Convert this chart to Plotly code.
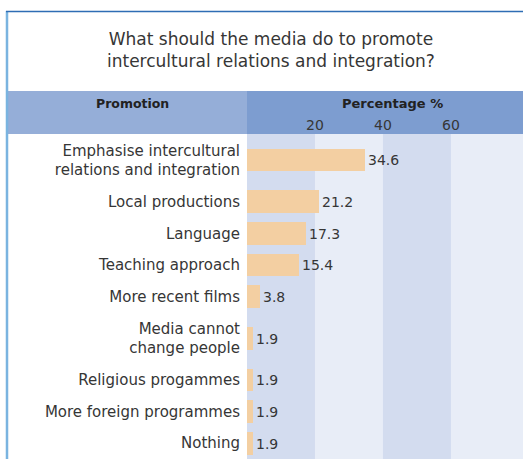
import plotly.graph_objects as go

# Survey answers and their shares (%)
labels = [
    "Emphasise intercultural<br>relations and integration",
    "Local productions",
    "Language",
    "Teaching approach",
    "More recent films",
    "Media cannot<br>change people",
    "Religious progammes",
    "More foreign programmes",
    "Nothing",
]
values = [34.6, 21.2, 17.3, 15.4, 3.8, 1.9, 1.9, 1.9, 1.9]
x_ticks = [20, 40, 60]
title_text = "What should the media do to promote<br>intercultural relations and integration?"
col_left = "Promotion"
col_right = "Percentage %"

W, H = 523, 459
FONT = "DejaVu Sans"
TEXT = "#363636"

# Row heights grow with the number of lines in a label
row_units = [1 + 0.65 * lab.count("<br>") for lab in labels]
centers, acc = [], 0.0
for u in row_units:
    centers.append(acc + u / 2)
    acc += u
total_units = acc

X_MAX = 81.2


def px(x):
    return x / W


def py(y):
    return 1 - y / H


fig = go.Figure(
    go.Bar(
        x=values,
        y=centers,
        orientation="h",
        width=0.72,
        marker=dict(color="#f3cfa2", line=dict(width=0)),
        text=[f"{v:.1f}" for v in values],
        textposition="outside",
        textfont=dict(family=FONT, size=14, color=TEXT),
        cliponaxis=False,
        hoverinfo="skip",
    )
)

shapes = []
# alternating column bands behind the bars
band_edges = [0] + x_ticks + [X_MAX]
for i in range(len(band_edges) - 1):
    if i % 2 == 0:
        shapes.append(dict(
            type="rect", xref="x", yref="paper",
            x0=band_edges[i], x1=band_edges[i + 1],
            y0=0, y1=py(134), fillcolor="#d3dcef",
            line=dict(width=0), layer="below",
        ))

# header strip
shapes.append(dict(type="rect", xref="paper", yref="paper",
                   x0=px(8), x1=px(247), y0=py(134), y1=py(91),
                   fillcolor="#95aed8", line=dict(width=0), layer="below"))
shapes.append(dict(type="rect", xref="paper", yref="paper",
                   x0=px(247), x1=1, y0=py(134), y1=py(91),
                   fillcolor="#7d9dd0", line=dict(width=0), layer="below"))

# frame lines
shapes.append(dict(type="line", xref="paper", yref="paper",
                   x0=px(7), x1=px(7), y0=0, y1=py(11),
                   line=dict(color="#7ab4e0", width=2.5)))
shapes.append(dict(type="line", xref="paper", yref="paper",
                   x0=px(6), x1=1, y0=py(11.5), y1=py(11.5),
                   line=dict(color="#2e6db4", width=1.5)))

annotations = [
    dict(text=title_text, xref="paper", yref="paper", x=px(271), y=py(50.5),
         showarrow=False, xanchor="center", yanchor="middle",
         font=dict(family=FONT, size=17, color=TEXT)),
    dict(text=f"<b>{col_left}</b>", xref="paper", yref="paper",
         x=px(132), y=py(104), showarrow=False,
         xanchor="center", yanchor="middle",
         font=dict(family=FONT, size=12.5, color="#222222")),
    dict(text=f"<b>{col_right}</b>", xref="paper", yref="paper",
         x=px(392), y=py(104), showarrow=False,
         xanchor="center", yanchor="middle",
         font=dict(family=FONT, size=13, color="#222222")),
]

fig.update_layout(
    width=W, height=H,
    margin=dict(l=0, r=0, t=0, b=0, autoexpand=False),
    paper_bgcolor="white",
    plot_bgcolor="#e8edf7",
    showlegend=False,
    bargap=0,
    shapes=shapes,
    annotations=annotations,
    xaxis=dict(
        domain=[px(247), 1],
        range=[0, X_MAX],
        side="top",
        tickvals=x_ticks,
        ticks="",
        showgrid=False,
        zeroline=False,
        showline=False,
        tickfont=dict(family=FONT, size=14, color=TEXT),
        fixedrange=True,
    ),
    yaxis=dict(
        domain=[0, py(134)],
        range=[total_units, 0],
        tickvals=centers,
        ticktext=labels,
        ticks="",
        ticklabelstandoff=6,
        showgrid=False,
        zeroline=False,
        showline=False,
        tickfont=dict(family=FONT, size=15, color=TEXT),
        fixedrange=True,
    ),
)

fig.write_html("out.html")
